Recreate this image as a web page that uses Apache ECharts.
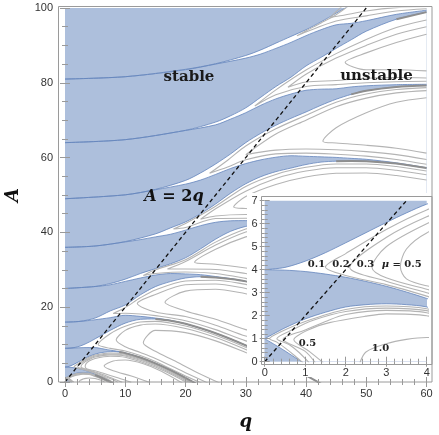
<!DOCTYPE html>
<html>
<head>
<meta charset="utf-8">
<script src="https://cdn.jsdelivr.net/npm/echarts@6.0.0/dist/echarts.min.js"></script>
<style>html,body{margin:0;padding:0;background:#fff}#main{width:439px;height:435px}</style>
</head>
<body>
<div id="main"></div>
<script>
// stability chart, boundary curves [q, A]
var b1 = [[0,1],[0.25,0.74],[0.5,0.47],[0.75,0.18],[1,-0.11],[1.5,-0.8],[2,-1.39],[4,-5],[8,-13],[20,-38],[60,-118]];
var a1 = [[0,1],[0.5,1.47],[1,1.86],[1.5,2.15],[2,2.38],[2.5,2.48],[3,2.52],[3.5,2.48],[4,2.38],[5,1.86],[6,1.2],[7,0.45],[8,-0.35],[10,-2.4],[15,-8.1],[30,-28.4],[60,-74.8]];
var b2 = [[0,4],[0.5,3.98],[1,3.92],[1.5,3.81],[2,3.67],[2.5,3.49],[3,3.28],[3.5,3.03],[4,2.75],[5,2.1],[6,1.38],[7,0.6],[8,-0.28],[10,-2.38],[15,-8.08],[30,-28.4],[60,-74.8]];
var a2 = [[0,4],[0.5,4.1],[1,4.37],[1.5,4.74],[2,5.17],[2.5,5.61],[3,6.05],[3.5,6.47],[4,6.85],[5,7.45],[6,7.85],[7,8.05],[8,8.15],[9,8.0],[10,7.72],[12.5,6.55],[15,5.0],[17.5,3.18],[20,1.12],[22.5,-1.13],[25,-3.55],[30,-8.75],[60,-46]];
var b3 = [[0,9],[2,9.13],[3,9.19],[4,9.2],[5,9.2],[6,8.95],[7,8.65],[8,8.4],[9,8.12],[10,7.78],[12.5,6.58],[15,5.02],[17.5,3.2],[20,1.14],[22.5,-1.11],[25,-3.53],[30,-8.73],[60,-46]];
var a3 = [[0,9],[1,9.08],[2,9.37],[3,9.91],[4,10.67],[5,11.55],[7.5,13.8],[10,15.74],[12.5,16.75],[15,16.85],[17.5,16.4],[20,15.56],[25,13.05],[30,9.8],[35,6.0],[40,1.77],[45,-2.84],[50,-7.73],[60,-18.2]];
var b4 = [[0,16],[2.5,16.2],[5,16.65],[7.5,17.2],[10,17.84],[12.5,17.55],[15,17.1],[17.5,16.5],[20,15.58],[25,13.07],[30,9.82],[35,6.02],[40,1.79],[45,-2.82],[50,-7.71],[60,-18.18]];
var a4 = [[0,16],[2.5,16.22],[5,17.1],[7.5,19.0],[10,20.6],[12.5,23.3],[15,25.5],[17.5,26.85],[20,27.8],[22.5,28.15],[25,27.95],[27.5,27.55],[30,26.9],[35,24.95],[40,22.4],[45,19.4],[50,16.0],[55,12.25],[60,8.25]];
var b5 = [[0,25],[5,25.52],[7.5,26.0],[10,26.9],[12.5,27.8],[15,28.6],[17.5,29.0],[20,28.9],[22.5,28.7],[25,28.2],[27.5,27.65],[30,26.92],[35,24.97],[40,22.42],[45,19.42],[50,16.02],[55,12.27],[60,8.27]];
var a5 = [[0,25],[5,25.55],[7.5,26.33],[10,27.5],[12.5,29.0],[15,30.3],[17.5,31.6],[20,33.2],[22.5,35.6],[25,38.2],[27.5,40.3],[30,41.6],[32.5,42.15],[35,42.15],[40,41.6],[45,40.2],[50,38.3],[55,36.0],[60,33.35]];
var b6 = [[0,36],[5,36.36],[10,37.45],[12.5,38.07],[15,38.8],[17.5,39.5],[20,40.6],[22.5,41.8],[25,42.7],[27.5,43.1],[30,43.15],[32.5,42.95],[35,42.65],[40,41.8],[45,40.4],[50,38.4],[55,36.1],[60,33.45]];
var a6 = [[0,36],[5,36.36],[10,37.55],[15,39.6],[17.5,41.2],[20,42.8],[22.5,45.0],[25,47.6],[27.5,50.5],[30,53.0],[32.5,54.9],[35,56.25],[37.5,57.2],[40,58.15],[42.5,58.8],[45,59.05],[47.5,59.1],[50,59.05],[55,58.4],[60,57.2]];
var b7 = [[0,49],[10,50.05],[15,51.4],[20,52.9],[22.5,54.0],[25,55.5],[27.5,57.1],[30,58.4],[32.5,59.4],[35,60.1],[37.5,60.5],[40,60.35],[42.5,60.2],[45,60.05],[47.5,59.8],[50,59.55],[55,58.6],[60,57.3]];
var a7 = [[0,49],[10,50.05],[15,51.5],[20,53.9],[22.5,55.9],[25,58.3],[27.5,61.0],[30,64.0],[32.5,66.5],[35,68.65],[37.5,70.5],[40,72.2],[42.5,74.0],[45,75.6],[47.5,76.9],[50,77.9],[55,78.9],[60,79.3]];
var b8 = [[0,64],[10,64.8],[20,67.25],[25,68.76],[27.5,70.3],[30,72.0],[32.5,74.0],[35,75.7],[37.5,77.0],[40,78.0],[42.5,78.3],[45,78.4],[47.5,78.9],[50,79.2],[55,79.5],[60,79.6]];
var a8 = [[0,64],[10,64.8],[20,67.3],[25,69.5],[27.5,71.2],[30,73.3],[32.5,76.15],[35,79.0],[37.5,81.5],[40,84.5],[42.5,86.8],[45,89.2],[47.5,91.5],[50,93.8],[55,97.0],[60,98.9]];
var b9 = [[0,81],[10,81.63],[20,83.5],[25,85.0],[30,86.6],[32.5,87.7],[35,89.2],[37.5,90.8],[40,92.6],[42.5,94.2],[45,95.5],[47.5,95.9],[50,96.6],[55,98.3],[60,99.4]];
var a9 = [[0,81],[10,81.63],[20,83.6],[25,85.1],[30,87.3],[32.5,88.8],[35,90.6],[37.5,92.4],[40,94.2],[42.5,96.3],[45,98.6],[47.5,101],[50,104],[60,118]];

// contour lines (mu levels) inside the unstable tongues
var t1c01 = [[0.95,-0.05],[0.75,0.25],[0.5,0.6],[0.3,0.85],[0.12,1.0],[0.4,1.3],[1,1.75],[2,2.27],[3,2.42],[4,2.3],[5,1.78],[6,1.12],[7,0.38],[7.5,-0.05]];
var t1c02 = [[1.1,-0.05],[0.85,0.4],[0.6,0.75],[0.3,1.0],[0.7,1.4],[1.2,1.8],[2,2.18],[3,2.33],[4,2.22],[5,1.7],[6,1.02],[7,0.3],[7.4,-0.05]];
var t1c03 = [[1.25,-0.05],[1.0,0.45],[0.45,0.98],[1.0,1.38],[1.5,1.75],[2,2.05],[3,2.23],[4,2.13],[5,1.6],[6,0.95],[7.3,-0.05]];
var t1c05 = [[1.45,-0.05],[1.1,0.45],[0.72,0.95],[1.1,1.4],[1.6,1.7],[2.5,1.98],[3,2.08],[4,2.0],[5,1.5],[6,0.85],[7.2,-0.05]];
var t1c10 = [[2.35,-0.05],[2.5,0.42],[3,0.78],[3.5,0.97],[4,1.05],[5,0.95],[6,0.45],[6.6,-0.05]];
var t2c01 = [[8,-0.1],[7,0.85],[6,1.6],[5,2.3],[4,2.85],[3,3.35],[2,3.75],[1.5,4.12],[2,4.7],[3,5.75],[4,6.6],[5,7.2],[7.5,7.75],[10,7.45],[15,4.85],[20,0.9],[21.5,-0.5]];
var t2c02 = [[8.8,-0.1],[8,0.6],[7,1.25],[6,1.85],[5,2.5],[4,3.0],[3,3.5],[2.1,4.1],[3,5.4],[4,6.3],[5,6.95],[7.5,7.5],[10,7.2],[15,4.6],[20,0.65],[21.2,-0.5]];
var t2c03 = [[9.5,-0.1],[8,0.9],[7,1.55],[6,2.15],[5,2.7],[4,3.15],[3,3.65],[2.65,4.1],[3,5.0],[4,6.0],[5,6.7],[7.5,7.25],[10,6.95],[15,4.35],[20,0.4],[21,-0.5]];
var t2c05 = [[11,-0.1],[9,1.0],[7,2.0],[5,3.0],[4,3.3],[3.5,3.6],[3.35,4.12],[3.5,4.9],[4,5.6],[5,6.3],[7.5,6.9],[10,6.6],[15,4.0],[20,0.1],[20.5,-0.5]];
var t2c10 = [[14,-0.1],[11,1.6],[8,3.0],[6.5,4.3],[8,5.6],[10,5.9],[13,4.9],[16,2.9],[19.5,-0.3]];
var t3c1 = [[23,-0.5],[20,1.6],[15,5.5],[12.5,7.1],[10,8.3],[7.5,9.0],[5.5,10.0],[7.5,12.9],[10,14.9],[12.5,16.05],[15,16.2],[20,14.95],[25,12.5],[30,9.3],[32,7.8]];
var t3c2 = [[24,-0.5],[20,2.5],[15,6.3],[12.5,7.9],[10,9.4],[8.5,11.2],[10,13.8],[12.5,15.2],[15,15.5],[20,14.3],[25,11.9],[30,8.7],[32,7.2]];
var t3c3 = [[26,-0.5],[22,2.5],[18,5.8],[15,8.2],[13,10.5],[15,13.8],[20,13.2],[25,11.0],[30,7.9],[32,6.5]];
var t4c1 = [[32,10.5],[30,11.0],[25,14.0],[20,16.4],[15,17.75],[12.5,18.2],[10,18.4],[8,18.3],[10,19.9],[12.5,22.5],[15,24.6],[20,27.0],[25,27.2],[30,26.1],[32,25.4]];
var t4c2 = [[32,11.8],[30,12.3],[25,15.2],[20,17.5],[15,18.7],[12,21],[15,23.4],[20,26.0],[25,26.2],[30,25.0],[32,24.3]];
var t4c3 = [[32,13.5],[30,14.0],[25,16.8],[20,19.0],[16.6,21.3],[20,24.3],[25,24.8],[30,23.6],[32,22.9]];
var t5c1 = [[32,27.0],[30,27.7],[25,29.0],[20,29.4],[15,29.0],[13,28.5],[15,30.0],[20,32.7],[25,37.4],[30,40.9],[32,41.3]];
var t5c2 = [[32,28.3],[30,29.0],[25,30.1],[20,30.2],[17,30.2],[20,32.2],[25,36.6],[30,40.1],[32,40.5]];
var t5c3 = [[32,30],[30,30.5],[25,31.5],[21.5,32],[25,35.5],[30,38.8],[32,39.2]];
var t6c1 = [[60,34.3],[50,39.2],[45,41.1],[40,42.5],[35,43.4],[30,43.8],[25,43.7],[20,41.3],[18,40.9],[20,42.4],[25,47.0],[30,52.3],[35,55.5],[40,57.4],[45,58.3],[50,58.3],[55,57.6],[60,56.4]];
var t6c2 = [[60,35.5],[50,40.3],[45,42.1],[40,43.5],[35,44.4],[30,44.8],[25,44.4],[22.5,43.5],[25,46.3],[30,51.0],[35,54.4],[40,56.4],[45,57.3],[50,57.3],[55,56.6],[60,55.4]];
var t6c3 = [[60,37.5],[50,42],[45,43.8],[40,45.1],[35,46.0],[30,46.4],[28,46.8],[30,49.6],[35,52.8],[40,54.8],[45,55.8],[50,55.9],[55,55.2],[60,54.0]];
var t7c1 = [[60,58.2],[55,59.5],[50,60.4],[45,60.9],[40,61.2],[35,61.0],[30,59.4],[27,57.5],[24,55.8],[27,59.3],[30,63.1],[35,67.7],[40,71.3],[45,74.8],[50,77.0],[55,78.2],[60,78.7]];
var t7c2 = [[60,59.5],[55,60.8],[50,61.6],[45,62.1],[40,62.3],[35,62.0],[30,60.8],[35,66.3],[40,70.0],[45,73.6],[50,75.9],[55,77.3],[60,77.9]];
var t7c3 = [[60,61.2],[55,62.5],[50,63.3],[45,63.9],[42.8,64.4],[45,68.0],[50,72.0],[55,74.8],[60,76.0]];
var t8c1 = [[60,80.4],[55,80.3],[50,80.0],[45,79.5],[40,79.0],[35,76.8],[31.5,73.8],[35,78.1],[40,83.4],[45,87.8],[50,91.6],[55,94.8],[60,96.8]];
var t8c2 = [[60,81.3],[55,81.4],[50,81.2],[45,80.6],[40,80.2],[37,78.8],[40,82.3],[45,86.6],[50,90.0],[55,93.0],[60,95.0]];
var t8c3 = [[60,83.2],[55,83.5],[50,83.5],[46.5,85.5],[50,88.0],[55,90.8],[60,93.0]];
var t9c1 = [[60,99.8],[55,99.2],[50,97.9],[45,96.5],[40,93.6],[38.5,92.6],[40,93.9],[42.5,96.0],[45,98.2],[47,100.5]];
var t9c2 = [[60,100.4],[55,100.1],[50,99.2],[46,98.0],[44,97.5],[45,99.0],[46,100.5]];
var lineA2q = [[0,0],[50,100]];

var blue = '#adbfdc', edgeC = '#6585bd', contC = '#b4b4b4', bandC = '#8e8e8e', tickC = '#999';
var series = [];
function fill(data, color, z, ax) {
  series.push({type:'line', xAxisIndex:ax, yAxisIndex:ax, data:data, smooth:0.3, symbol:'none', silent:true,
    lineStyle:{width:0, opacity:0}, areaStyle:{color:color, opacity:1, origin:'start'}, z:z});
}
function curve(data, color, width, z, ax, dash) {
  series.push({type:'line', xAxisIndex:ax, yAxisIndex:ax, data:data, smooth:0.3, symbol:'none', silent:true,
    lineStyle:{color:color, width:width, type:dash || 'solid'}, z:z});
}

// main plot: white under a_n, blue under b_n, top tongue first
var pairs = [[a9,b9],[a8,b8],[a7,b7],[a6,b6],[a5,b5],[a4,b4],[a3,b3],[a2,b2],[a1,b1]];
var z = 3;
pairs.forEach(function (p) { fill(p[0], '#fff', z++, 0); fill(p[1], blue, z++, 0); });
[a1,b1,a2,b2,a3,b3,a4,b4,a5,b5,a6,b6,a7,b7,a8,b8,a9,b9].forEach(function (d) { curve(d, edgeC, 0.8, 22, 0); });
var conts = [t1c01,t1c02,t1c03,t1c05,t1c10,t2c01,t2c02,t2c03,t2c05,t2c10,t3c1,t3c2,t3c3,t4c1,t4c2,t4c3,
  t5c1,t5c2,t5c3,t6c1,t6c2,t6c3,t7c1,t7c2,t7c3,t8c1,t8c2,t8c3,t9c1,t9c2];
conts.forEach(function (d) { curve(d, contC, 1.1, 24, 0); });
// merged (very thin) stable bands
[[a1,5],[a2,9],[a3,15],[a4,22.5],[a5,32.5],[a6,45],[a7,47.5],[a8,55]].forEach(function (b) {
  curve(b[0].filter(function (p) { return p[0] >= b[1]; }), bandC, 2, 26, 0);
});
curve(lineA2q, '#111', 1.3, 30, 0, [4, 3]);

// inset
fill(a2, '#fff', 60, 2); fill(b2, blue, 61, 2); fill(a1, '#fff', 62, 2); fill(b1, blue, 63, 2);
[a1,b1,a2,b2].forEach(function (d) { curve(d, edgeC, 0.8, 64, 2); });
[t1c01,t1c02,t1c03,t1c05,t1c10,t2c01,t2c02,t2c03,t2c05].forEach(function (d) { curve(d, contC, 1.1, 65, 2); });
curve(lineA2q, '#111', 1.3, 66, 2, [4, 3]);

var lab = {fontSize:11, color:'#333', fontFamily:'Liberation Sans'};
function ax(o) {
  return Object.assign({type:'value', axisLine:{show:false}, splitLine:{show:false},
    axisTick:{inside:true, length:5, lineStyle:{color:tickC}}}, o);
}
function minor(n) { return {show:true, splitNumber:n, length:3, lineStyle:{color:tickC}}; }
var nameStyle = {fontFamily:'DejaVu Serif', fontWeight:'bold', fontStyle:'italic', fontSize:18, color:'#111'};

var myChart = echarts.init(document.getElementById('main'));
myChart.setOption({
  animation:false,
  grid:[
    {left:65, right:12.5, top:8, bottom:53, show:true, backgroundColor:blue, borderWidth:0, z:0, containLabel:false, outerBoundsMode:'none'},
    {left:264.7, right:12.3, top:200.7, bottom:73.3, show:true, backgroundColor:blue, borderWidth:0, z:55, containLabel:false, outerBoundsMode:'none'}
  ],
  xAxis:[
    ax({gridIndex:0, min:0, max:60, interval:10, position:'bottom', z:100, minorTick:minor(5),
      axisLabel:Object.assign({margin:6}, lab), name:'q', nameLocation:'middle', nameGap:31, nameTextStyle:nameStyle}),
    ax({gridIndex:0, min:0, max:60, interval:10, position:'top', offset:2, z:45, minorTick:minor(5), axisLabel:{show:false}}),
    ax({gridIndex:1, min:0, max:4, interval:1, position:'bottom', offset:2.5, z:75, minorTick:minor(5),
      axisLabel:Object.assign({margin:3}, lab)}),
    ax({gridIndex:1, min:0, max:4, interval:1, position:'top', offset:4, z:75, minorTick:minor(5), axisLabel:{show:false}})
  ],
  yAxis:[
    ax({gridIndex:0, min:0, max:100, interval:20, position:'left', offset:7, z:45, minorTick:minor(4),
      axisLabel:Object.assign({margin:5}, lab), name:'A', nameLocation:'middle', nameGap:36, nameRotate:90, nameTextStyle:nameStyle}),
    ax({gridIndex:0, min:0, max:100, interval:20, position:'right', offset:5.5, z:45, minorTick:minor(4), axisLabel:{show:false}}),
    ax({gridIndex:1, min:0, max:7, interval:1, position:'left', offset:3, z:75, minorTick:minor(5),
      axisLabel:Object.assign({margin:4}, lab)}),
    ax({gridIndex:1, min:0, max:7, interval:1, position:'right', offset:5.3, z:75, minorTick:minor(5), axisLabel:{show:false}})
  ],
  graphic:[
    {type:'rect', z:50, silent:true, shape:{x:247, y:193, width:185, height:184}, style:{fill:'#fff'}},
    {type:'rect', z:101, silent:true, shape:{x:58.5, y:6.5, width:373.5, height:375.5}, style:{fill:null, stroke:'#9a9a9a', lineWidth:1}},
    {type:'rect', z:80, silent:true, shape:{x:261.5, y:196.5, width:170.5, height:168}, style:{fill:null, stroke:'#9a9a9a', lineWidth:1}},
    {type:'text', z:110, x:189, y:77.5, style:{text:'stable', font:'bold 15px "DejaVu Serif"', fill:'#1a1a1a', align:'center', verticalAlign:'middle'}},
    {type:'text', z:110, x:376.5, y:76.5, style:{text:'unstable', font:'bold 15px "DejaVu Serif"', fill:'#1a1a1a', align:'center', verticalAlign:'middle'}},
    {type:'text', z:110, x:174, y:197, style:{text:'{i|A} = 2{i|q}', font:'bold 16px "DejaVu Serif"', fill:'#111', align:'center', verticalAlign:'middle',
      rich:{i:{font:'italic bold 16px "DejaVu Serif"', fill:'#111'}}}},
    {type:'text', z:110, x:316.5, y:264, style:{text:'0.1', font:'bold 10px "DejaVu Serif"', fill:'#222', align:'center', verticalAlign:'middle'}},
    {type:'text', z:110, x:341, y:264, style:{text:'0.2', font:'bold 10px "DejaVu Serif"', fill:'#222', align:'center', verticalAlign:'middle'}},
    {type:'text', z:110, x:365.5, y:264, style:{text:'0.3', font:'bold 10px "DejaVu Serif"', fill:'#222', align:'center', verticalAlign:'middle'}},
    {type:'text', z:110, x:401.7, y:264, style:{text:'{i|μ} = 0.5', font:'bold 10px "DejaVu Serif"', fill:'#222', align:'center', verticalAlign:'middle',
      rich:{i:{font:'italic bold 10px "DejaVu Serif"', fill:'#222'}}}},
    {type:'text', z:110, x:307.5, y:343.5, style:{text:'0.5', font:'bold 10px "DejaVu Serif"', fill:'#222', align:'center', verticalAlign:'middle'}},
    {type:'text', z:110, x:380.5, y:348.5, style:{text:'1.0', font:'bold 10px "DejaVu Serif"', fill:'#222', align:'center', verticalAlign:'middle'}}
  ],
  series:series
});
</script>
</body>
</html>
